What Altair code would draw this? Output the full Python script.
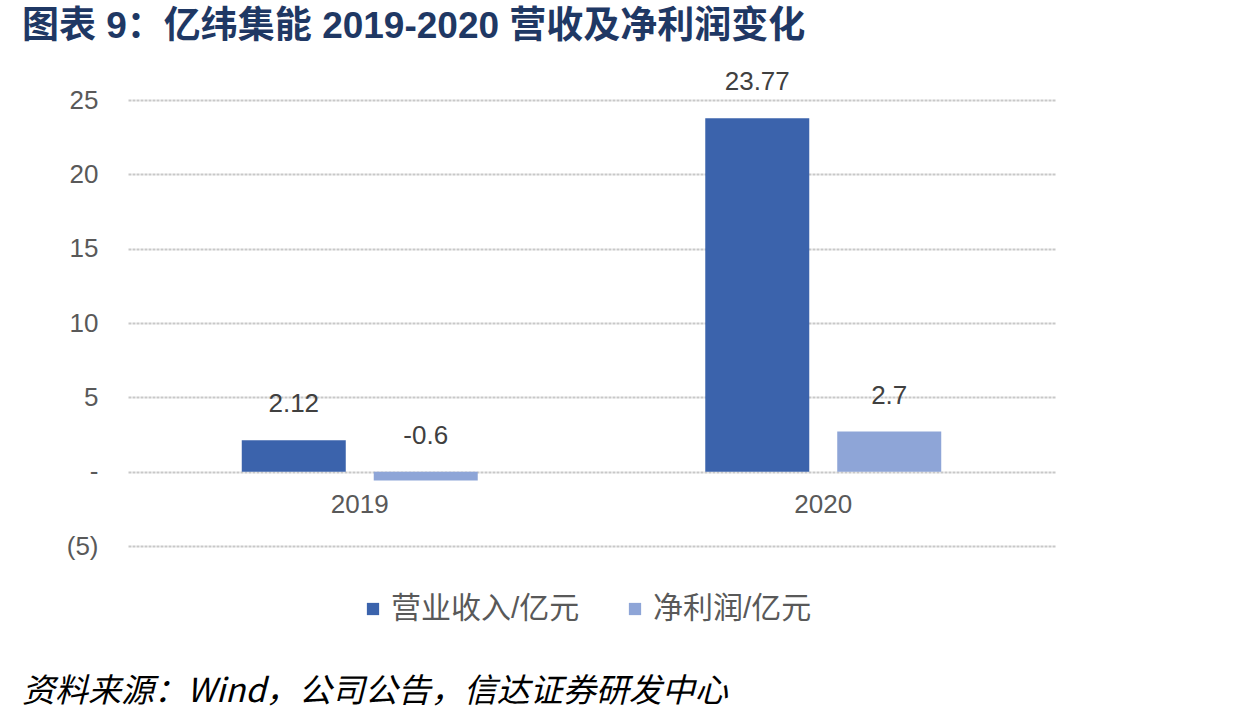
import altair as alt
import pandas as pd

years = ["2019", "2020"]
series = ["营业收入/亿元", "净利润/亿元"]
revenue = [2.12, 23.77]
profit = [-0.6, 2.7]
label_text = [["2.12", "23.77"], ["-0.6", "2.7"]]
colors = ["#3B63AC", "#8EA5D7"]
y_ticks = [-5, 0, 5, 10, 15, 20, 25]

title_text = "图表  9：亿纬集能 2019-2020 营收及净利润变化"
footer_text = "资料来源：Wind，公司公告，信达证券研发中心"

rows = []
for i, y in enumerate(years):
    rows.append({"year": y, "series": series[0], "value": revenue[i], "label": label_text[0][i]})
    rows.append({"year": y, "series": series[1], "value": profit[i], "label": label_text[1][i]})
df = pd.DataFrame(rows)
df["labely"] = df["value"].clip(lower=0)

FONT = "Liberation Sans, Arial, Noto Sans CJK SC"

x_enc = alt.X("year:N", sort=years,
              scale=alt.Scale(paddingInner=0, paddingOuter=0),
              axis=alt.Axis(title=None, orient="bottom", offset=-74, domain=False, ticks=False,
                            grid=False,
                            labelFontSize=26, labelColor="#595959", labelPadding=19,
                            labelFont=FONT, labelAngle=0))
xo_enc = alt.XOffset("series:N", sort=series,
                     scale=alt.Scale(paddingInner=0.212, paddingOuter=0.862))

bars = alt.Chart(df).mark_bar().encode(
    x=x_enc,
    xOffset=xo_enc,
    y=alt.Y("value:Q", scale=alt.Scale(domain=[-5, 25], nice=False),
            axis=alt.Axis(title=None, values=y_ticks, domain=False, ticks=False,
                          labelFontSize=26, labelColor="#595959", labelPadding=30,
                          labelFont=FONT,
                          labelExpr="datum.value == 0 ? '-' : (datum.value < 0 ? '(' + abs(datum.value) + ')' : datum.label)",
                          grid=True, gridColor="#c8c8c8", gridWidth=2, gridDash=[3, 1])),
    color=alt.Color("series:N", sort=series,
                    scale=alt.Scale(domain=series, range=colors),
                    legend=alt.Legend(title=None, orient="none", legendX=230, legendY=494,
                                      direction="horizontal", symbolType="square",
                                      symbolSize=150, labelFontSize=30, labelColor="#595959",
                                      labelFont=FONT, columnPadding=40, labelOffset=3,
                                      labelLimit=0, symbolStrokeWidth=0)),
)

labels = alt.Chart(df).mark_text(fontSize=26, color="#404040", font=FONT, baseline="middle", dy=-36).encode(
    x=alt.X("year:N", sort=years),
    xOffset=alt.XOffset("series:N", sort=series),
    y=alt.Y("labely:Q"),
    text="label:N",
)

footer = alt.Chart(pd.DataFrame({"t": [footer_text]})).mark_text(
    fontSize=33, font="Noto Sans CJK SC", fontStyle="italic", color="#000000",
    align="left", baseline="middle"
).encode(x=alt.value(-106), y=alt.value(592), text="t:N")

chart = alt.layer(bars, labels, footer).properties(
    width=927, height=446,
    title=alt.Title(title_text, anchor="start", frame="group", dx=-106, offset=23, fontSize=37,
                    font=FONT, fontWeight="bold", color="#1F3864"),
    autosize=alt.AutoSizeParams(type="none"),
    padding={"left": 128, "top": 100, "right": 197, "bottom": 176},
).configure(background="white").configure_view(stroke=None)

chart.save("out.html", embed_options={"renderer": "svg", "actions": False})
